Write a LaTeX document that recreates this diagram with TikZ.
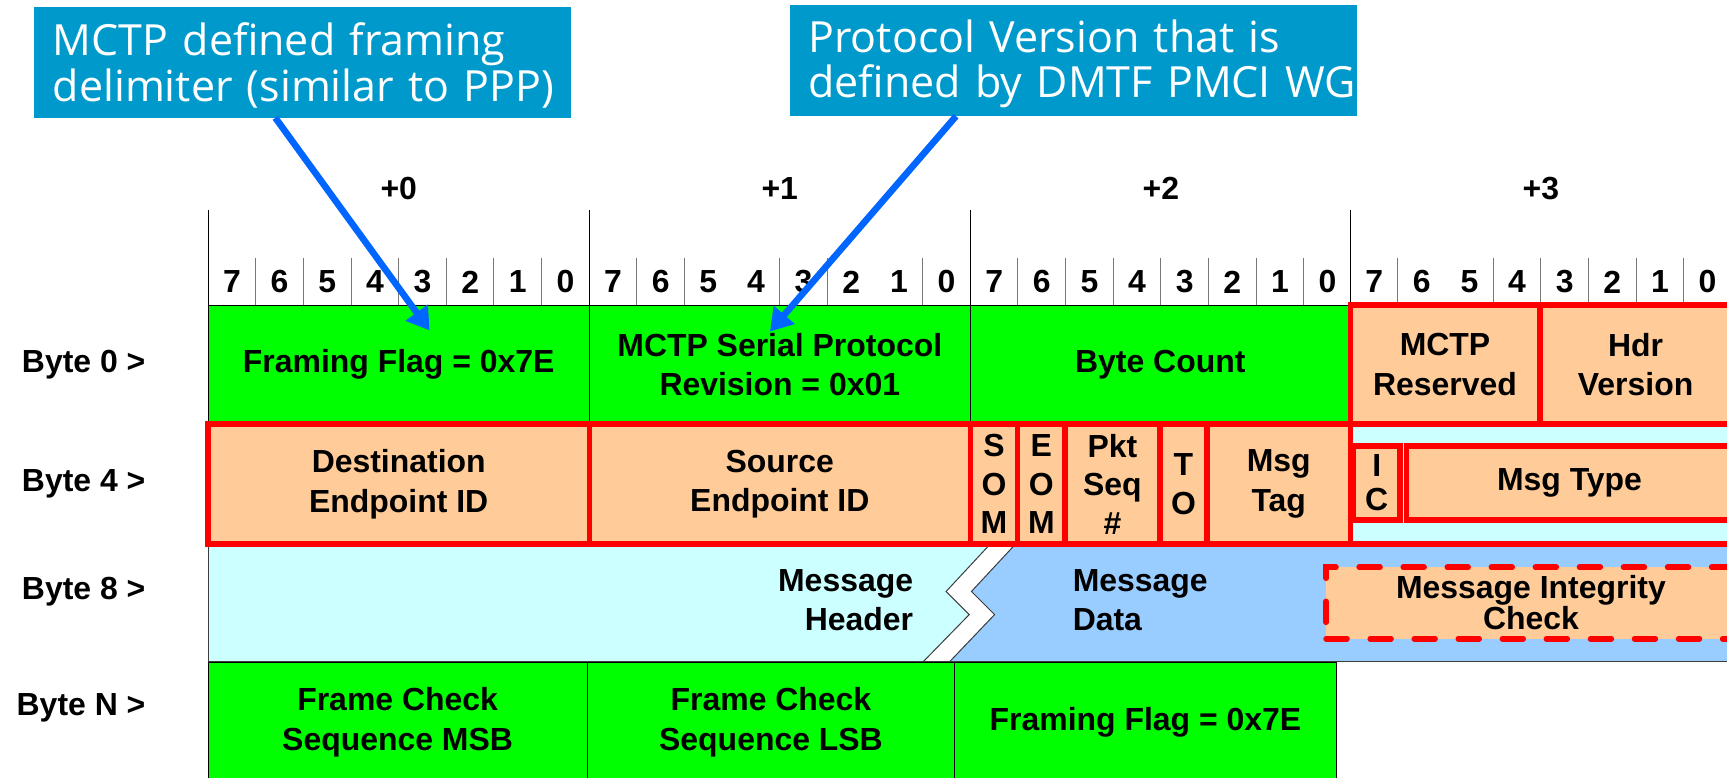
\documentclass[tikz,border=0pt]{standalone}
\usepackage{fontspec}
\setmainfont{Liberation Sans}
\newfontfamily\calloutfont{Open Sans}
\usetikzlibrary{arrows.meta}

\definecolor{fieldgreen}{RGB}{0,255,0}
\definecolor{hdrorange}{RGB}{255,204,153}
\definecolor{hdrcyan}{RGB}{204,255,255}
\definecolor{datablue}{RGB}{153,204,255}
\definecolor{calloutblue}{RGB}{0,153,204}
\definecolor{pointerblue}{RGB}{0,102,255}
\definecolor{fieldred}{RGB}{255,0,0}
\definecolor{gridgray}{RGB}{120,120,120}
\definecolor{edgegray}{RGB}{60,60,60}

% callout lines sit a little low in their boxes
\newcommand{\lowline}[1]{\raisebox{-3pt}[\height][\depth]{#1}}

\tikzset{
  lbl/.style={font=\fontsize{29}{36}\selectfont\bfseries, inner sep=0pt, outer sep=0pt, align=center},
  greencell/.style={lbl, anchor=north west, draw=black, line width=0.8pt, fill=fieldgreen},
  redcell/.style={lbl, anchor=north west, draw=fieldred, line width=5pt, fill=hdrorange},
  redstack/.style={redcell, font=\fontsize{29}{35}\selectfont\bfseries},
  miccell/.style={lbl, anchor=north west, draw=fieldred, line width=5pt, fill=hdrorange,
    dash pattern=on 19pt off 21pt, line cap=round, font=\fontsize{29}{26}\selectfont\bfseries},
  callout/.style={anchor=north west, fill=calloutblue, text=white, inner xsep=17pt, inner ysep=0pt,
    outer sep=0pt, align=left, font=\calloutfont\fontsize{39}{41}\selectfont},
  pointer/.style={draw=pointerblue, line width=6pt, -{Triangle[length=20pt,width=24pt]}},
  bytesep/.style={draw=black, line width=0.9pt},
  bitsep/.style={draw=gridgray, line width=0.9pt},
  zigedge/.style={draw=edgegray, line width=0.9pt},
}

\begin{document}
\begin{tikzpicture}[x=1pt,y=-1pt]
\useasboundingbox (0,0) rectangle (1568,706);
\clip (0,0) rectangle (1568,706);

% ---- byte / bit ruler ----
\foreach \b/\n in {189/0,535/1,881/2,1226/3}
  \node[lbl] (off\n) at ({\b+173},171) {+\n};
\foreach \b in {189,535,881,1226,1572}
  \draw[bytesep] (\b,191) -- (\b,277);
\foreach \b/\ks in {189/{1,2,3,4,5,6,7},535/{1,2,4,5,7},881/{1,2,3,4,5,6,7},1226/{1,3,4,5,6,7}}
  \foreach \k in \ks
    \draw[bitsep] ({\b+\k*43.25},234) -- ({\b+\k*43.25},277);
\foreach \b/\n in {189/0,535/1,881/2,1226/3}
  \foreach \k in {0,...,7}
    \node[lbl] (bit\n-\k) at ({\b+(\k+0.5)*43.25},256) {\pgfmathparse{int(7-\k)}\pgfmathresult};

% ---- Byte 0 ----
\node[greencell, minimum width=346pt, minimum height=108pt] (flag0) at (189,277) {Framing Flag = 0x7E};
\node[greencell, minimum width=346pt, minimum height=108pt] (rev) at (535,277) {MCTP Serial Protocol\\Revision = 0x01};
\node[greencell, minimum width=345pt, minimum height=108pt] (count) at (881,277) {Byte Count};
\node[redcell, minimum width=172pt, minimum height=108pt] (rsvd) at (1226,277) {MCTP\\Reserved};
\node[redcell, minimum width=174pt, minimum height=108pt] (hdrver) at (1398,277) {Hdr\\Version};

% ---- Byte 8: message header / message data ----
\fill[hdrcyan] (189,494) -- (899,494) -- (859,537) -- (880,558) -- (838,601) -- (189,601) -- cycle;
\fill[datablue] (922,494) -- (1580,494) -- (1580,601) -- (862,601) -- (903,558) -- (882,537) -- cycle;
\draw[zigedge] (899,494) -- (859,537) -- (880,558) -- (838,601);
\draw[zigedge] (922,494) -- (882,537) -- (903,558) -- (862,601);
\draw[zigedge] (189,494) -- (189,601) -- (1580,601);
\node[lbl, align=right, anchor=east] (msghdr) at (829,545) {Message\\Header};
\node[lbl, align=left, anchor=west] (msgdata) at (974,545) {Message\\Data};
\node[miccell, minimum width=372pt, minimum height=65pt] (mic) at (1204,515) {Message Integrity\\Check};

% ---- Byte 4: transport header ----
\node[redcell, minimum width=346pt, minimum height=109pt] (dst) at (189,385) {Destination\\Endpoint ID};
\node[redcell, minimum width=346pt, minimum height=109pt] (src) at (535,385) {Source\\Endpoint ID};
\node[redstack, minimum width=43pt, minimum height=109pt] (som) at (881,385) {S\\O\\M};
\node[redstack, minimum width=43pt, minimum height=109pt] (eom) at (924,385) {E\\O\\M};
\node[redstack, minimum width=86pt, minimum height=109pt] (pkt) at (967,385) {Pkt\\Seq\\\#};
\node[redstack, minimum width=43pt, minimum height=109pt] (to) at (1053,385) {T\\O};
\node[redcell, minimum width=130pt, minimum height=109pt] (tag) at (1096,385) {Msg\\Tag};
\node[redcell, fill=hdrcyan, minimum width=360pt, minimum height=109pt] (msghdrbyte) at (1226,385) {};
\node[redcell, font=\fontsize{29}{31}\selectfont\bfseries, minimum width=42pt, minimum height=67pt] (ic) at (1229,405) {I\\C};
\node[redcell, minimum width=296pt, minimum height=67pt] (msgtype) at (1277,405) {Msg Type};

% ---- Byte N ----
\node[greencell, minimum width=344pt, minimum height=110pt] (fcsmsb) at (189,601) {Frame Check\\Sequence MSB};
\node[greencell, minimum width=334pt, minimum height=110pt] (fcslsb) at (533,601) {Frame Check\\Sequence LSB};
\node[greencell, minimum width=346pt, minimum height=110pt] (flagN) at (867,601) {Framing Flag = 0x7E};

% ---- row labels ----
\node[lbl, anchor=east] (row0) at (132,331) {Byte 0 >};
\node[lbl, anchor=east] (row4) at (132,439) {Byte 4 >};
\node[lbl, anchor=east] (row8) at (132,537) {Byte 8 >};
\node[lbl, anchor=east] (rowN) at (132,643) {Byte N >};

% ---- callouts ----
\node[callout, text width=453pt, minimum height=101pt] (note1) at (31,6)
  {\lowline{MCTP defined framing}\\\lowline{delimiter (similar to PPP)}};
\node[callout, text width=481pt, minimum height=101pt] (note2) at (717,4.5)
  {\lowline{Protocol Version that is}\\\lowline{defined by DMTF PMCI WG}};
\coordinate (tip1) at (390,300);
\coordinate (tip2) at (699,301);
\draw[pointer] ([xshift=-24.5pt]note1.south) -- (tip1);
\draw[pointer] ([xshift=-106.5pt]note2.south) -- (tip2);
\end{tikzpicture}
\end{document}
